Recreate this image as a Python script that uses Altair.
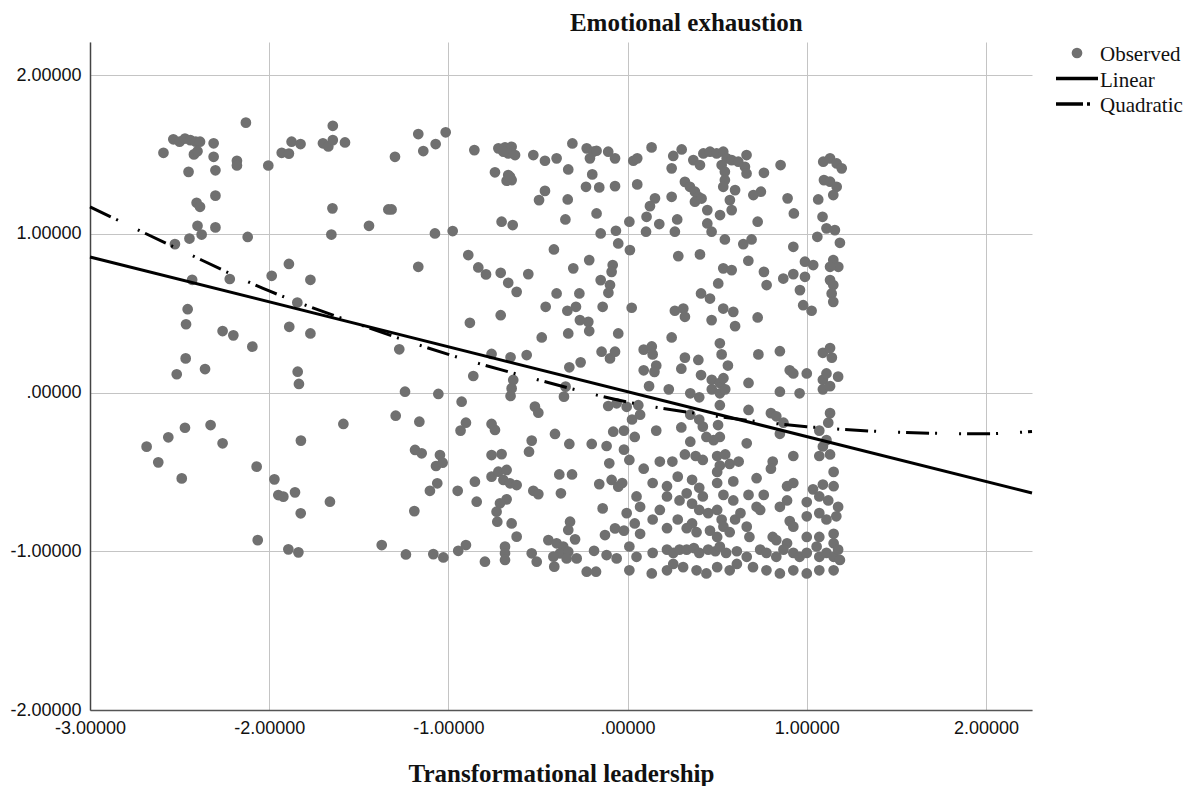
import altair as alt
import pandas as pd

# ---- observed points ----
xA = [-2.13, -2.535, -2.50, -2.47, -2.44, -2.41, -2.386, -2.59, -2.42, -2.40, -2.31, -2.31, -2.45, -2.30, -2.18, -2.18, -2.005, -1.93, -1.89, -1.875, -1.825, -1.70, -1.67, -1.645, -1.577, -1.645]
yA = [1.70, 1.595, 1.58, 1.60, 1.59, 1.58, 1.58, 1.51, 1.50, 1.52, 1.57, 1.485, 1.39, 1.40, 1.46, 1.43, 1.43, 1.51, 1.505, 1.58, 1.565, 1.57, 1.55, 1.59, 1.575, 1.68]
xB = [-2.30, -2.405, -2.386, -2.40, -2.377, -2.30, -2.445, -2.526, -2.12, -1.647, -1.653, -1.89, -1.986, -1.77, -2.43, -2.22, -1.843, -2.455, -2.464, -2.26, -2.20, -1.888, -1.77]
yB = [1.24, 1.195, 1.17, 1.05, 0.995, 1.04, 0.97, 0.935, 0.98, 1.16, 0.995, 0.81, 0.735, 0.71, 0.71, 0.715, 0.567, 0.525, 0.43, 0.387, 0.36, 0.414, 0.372]
xC = [-2.094, -2.466, -2.358, -2.516, -1.841, -1.834, -2.47, -2.327, -2.563, -2.684, -2.619, -2.488, -2.26, -1.586, -1.823, -2.07, -1.971, -1.949, -1.921, -1.856, -1.661, -1.824, -2.064, -1.893, -1.837]
yC = [0.289, 0.215, 0.148, 0.115, 0.131, 0.054, -0.222, -0.205, -0.282, -0.341, -0.44, -0.541, -0.32, -0.198, -0.303, -0.467, -0.547, -0.646, -0.656, -0.629, -0.688, -0.761, -0.93, -0.988, -1.007]
xD = [-1.168, -1.015, -1.071, -1.14, -1.298, -0.855, -0.721, -0.684, -0.647, -0.666, -0.628, -0.693, -0.526, -0.461, -0.396, -0.308, -0.228, -0.191, -0.21, -0.173, -0.108, -0.07, -0.74, -0.666, -0.647, -0.675, -0.656, -0.331, -0.197, -0.232, -0.158, -0.07, -0.461, -0.494, -0.334, -1.335, -1.317, -1.443, -1.075, -0.976, -0.703, -0.641, -0.347, -0.173, -0.15, -0.065, -0.052]
yD = [1.628, 1.639, 1.565, 1.521, 1.485, 1.527, 1.538, 1.544, 1.548, 1.506, 1.496, 1.517, 1.496, 1.46, 1.475, 1.569, 1.538, 1.517, 1.475, 1.523, 1.517, 1.475, 1.387, 1.37, 1.338, 1.334, 1.359, 1.405, 1.374, 1.296, 1.292, 1.30, 1.27, 1.212, 1.216, 1.153, 1.153, 1.05, 1.002, 1.017, 1.076, 1.055, 1.09, 1.128, 1.002, 1.019, 0.939]
xE = [-1.168, -0.889, -0.833, -0.79, -0.708, -0.666, -0.619, -0.554, -0.411, -0.303, -0.214, -0.083, -0.089, -0.15, -0.098, -0.107, -0.396, -0.269, -0.457, -0.336, -0.288, -0.139, -0.266, -0.219, -0.214, -0.88, -0.708, -0.479, -0.331, -0.052]
yE = [0.792, 0.866, 0.788, 0.744, 0.754, 0.691, 0.634, 0.746, 0.901, 0.782, 0.834, 0.803, 0.76, 0.708, 0.677, 0.628, 0.624, 0.624, 0.54, 0.515, 0.54, 0.54, 0.456, 0.445, 0.387, 0.439, 0.487, 0.347, 0.372, 0.372]
xF = [-1.274, -0.759, -0.653, -0.563, -0.145, -0.098, -0.07, -0.325, -0.262, -0.861, -0.638, -0.647, -0.653, -0.346, -0.355, -1.242, -1.056, -0.926, -0.108, -0.061, -0.517, -0.498, -1.294, -1.162, -0.902, -0.932, -0.759, -0.74, -0.405, -0.08, -0.535, -0.55, -0.325, -0.2, -0.117, -1.186, -1.149, -1.047, -1.069, -1.032, -0.759, -0.703, -0.102]
yF = [0.272, 0.243, 0.222, 0.236, 0.257, 0.215, 0.257, 0.159, 0.19, 0.104, 0.079, 0.026, -0.022, 0.037, -0.026, 0.005, -0.009, -0.058, -0.085, -0.068, -0.089, -0.127, -0.146, -0.184, -0.19, -0.24, -0.198, -0.236, -0.261, -0.247, -0.303, -0.373, -0.324, -0.324, -0.337, -0.362, -0.383, -0.394, -0.463, -0.442, -0.394, -0.388, -0.446]
xG = [-0.759, -0.721, -0.675, -0.693, -0.656, -0.619, -0.381, -0.31, -0.158, -0.089, -0.052, -1.062, -1.103, -0.948, -0.852, -0.526, -0.498, -0.372, -0.842, -0.675, -0.712, -0.731, -0.727, -1.19, -0.139, -0.647, -0.619, -0.321, -0.331, -0.293, -0.07, -0.126, -1.372, -1.237, -1.084, -1.028, -0.945, -0.902, -0.796, -0.684, -0.684, -0.684, -0.535, -0.507, -0.442, -0.396, -0.359, -0.377, -0.331, -0.414, -0.34, -0.284, -0.187, -0.117, -0.061, -0.228, -0.176, -0.409]
yG = [-0.53, -0.499, -0.488, -0.551, -0.572, -0.583, -0.516, -0.516, -0.577, -0.551, -0.593, -0.572, -0.619, -0.619, -0.562, -0.619, -0.64, -0.635, -0.688, -0.673, -0.698, -0.751, -0.814, -0.747, -0.73, -0.825, -0.908, -0.814, -0.866, -0.925, -0.856, -0.898, -0.961, -1.02, -1.018, -1.039, -0.997, -0.961, -1.066, -0.971, -1.013, -1.055, -1.013, -1.066, -0.93, -0.95, -0.971, -1.013, -1.003, -1.034, -1.045, -1.045, -0.997, -1.024, -1.045, -1.129, -1.129, -1.097]
xH = [0.134, 0.032, 0.054, 0.255, 0.302, 0.246, 0.367, 0.404, 0.423, 0.46, 0.497, 0.534, 0.553, 0.581, 0.618, 0.664, 0.655, 0.664, 0.525, 0.543, 0.543, 0.534, 0.6, 0.761, 0.854, 0.054, 0.32, 0.348, 0.376, 0.395, 0.376, 0.413, 0.246, 0.153, 0.125, 0.106, 0.702, 0.744, 0.571, 0.581, 0.516, 0.445, 0.893, 0.928, 0.01, 0.177, 0.277, 0.264, 0.103, 0.445, 0.469, 0.726, 0.543, 0.646, 0.692, 0.013, 0.925, 0.283, 0.404, 0.674, 0.534, 0.581, 0.761, 0.506, 0.776, 0.869, 0.925, 0.41, 0.46, 0.962, 0.99, 1.036, 0.99, 0.98, 1.027, 0.023, 0.264, 0.311, 0.32, 0.534, 0.59, 0.6, 0.469, 0.726, 0.246]
yH = [1.544, 1.46, 1.475, 1.49, 1.531, 1.412, 1.464, 1.433, 1.506, 1.517, 1.506, 1.517, 1.475, 1.464, 1.454, 1.496, 1.422, 1.38, 1.433, 1.391, 1.338, 1.296, 1.275, 1.384, 1.433, 1.311, 1.327, 1.296, 1.265, 1.233, 1.202, 1.222, 1.233, 1.223, 1.174, 1.107, 1.244, 1.265, 1.212, 1.149, 1.118, 1.149, 1.223, 1.128, 1.076, 1.061, 1.09, 1.013, 1.013, 1.065, 1.013, 1.076, 0.964, 0.935, 0.964, 0.897, 0.918, 0.859, 0.87, 0.83, 0.782, 0.771, 0.76, 0.687, 0.677, 0.718, 0.746, 0.624, 0.592, 0.645, 0.824, 0.803, 0.729, 0.55, 0.515, 0.534, 0.515, 0.529, 0.477, 0.529, 0.508, 0.418, 0.456, 0.473, 0.347]
xI = [1.092, 1.13, 1.167, 1.195, 1.096, 1.13, 1.167, 1.148, 1.064, 1.088, 1.11, 1.157, 1.185, 1.059, 1.148, 1.176, 1.13, 1.13, 1.148, 1.139, 1.148]
yI = [1.454, 1.475, 1.443, 1.412, 1.338, 1.328, 1.296, 1.244, 1.216, 1.107, 1.034, 1.023, 0.943, 0.981, 0.834, 0.792, 0.792, 0.708, 0.677, 0.624, 0.571]
xJ = [0.09, 0.135, 0.14, 0.32, 0.395, 0.515, 0.525, 0.56, 0.73, 0.85, 1.09, 1.13, 1.14,
      0.09, 0.16, 0.15, 0.30, 0.41, 0.47, 0.515, 0.535, 0.675, 0.905, 0.925, 1.0, 1.09, 1.11, 1.175,
      0.12, 0.23, 0.35, 0.40, 0.47, 0.515, 0.545, 0.85, 0.96, 1.09, 1.13,
      -0.005, 0.06, 0.025, 0.07, 0.16, 0.30, 0.35, 0.40, 0.42, 0.515, 0.505, 0.675, 0.80, 0.83, 0.87, 0.85, 1.07, 1.13, 1.12,
      -0.02, 0.04, -0.02, 0.35, 0.44, 0.515, 0.48, 0.665, 1.09, 1.11, 0.925, 1.07, 1.13,
      0.01, 0.09, 0.18, 0.25, 0.32, 0.38, 0.42, 0.50, 0.545, 0.57, 0.62, 0.81, 0.80, 1.15,
      -0.03, 0.14, 0.22, 0.28, 0.36, 0.40, 0.50, 0.515, 0.50, 0.59, 0.72, 0.89, 0.925, 1.035, 1.09, 1.15,
      0.05, 0.07, 0.22, 0.29, 0.33, 0.36, 0.42, 0.535, 0.59, 0.675, 0.76, 0.89, 1.0, 1.07, 1.12, 1.175,
      -0.005, 0.04, 0.14, 0.18, 0.28, 0.36, 0.40, 0.45, 0.50, 0.525, 0.60, 0.63, 0.72, 0.74, 0.85, 0.905, 0.925, 1.0, 1.07, 1.11, 1.165,
      -0.02, 0.07, 0.22, 0.33, 0.385, 0.46, 0.50, 0.535, 0.57, 0.665, 0.68, 0.81, 0.83, 0.89, 1.0, 1.07, 1.15, 1.15,
      0.01, 0.05, 0.14, 0.22, 0.255, 0.29, 0.33, 0.37, 0.40, 0.45, 0.49, 0.515, 0.55, 0.61, 0.665, 0.74, 0.775, 0.83, 0.87, 0.925, 0.96, 1.0, 1.055, 1.07, 1.11, 1.15, 1.175, 1.185,
      0.01, 0.135, 0.22, 0.255, 0.31, 0.385, 0.44, 0.50, 0.57, 0.61, 0.70, 0.775, 0.85, 0.925, 1.0, 1.07, 1.15]
yJ = [0.27, 0.29, 0.24, 0.22, 0.205, 0.31, 0.24, 0.17, 0.24, 0.26, 0.25, 0.28, 0.22,
      0.14, 0.17, 0.13, 0.15, 0.11, 0.08, 0.06, 0.09, 0.06, 0.14, 0.12, 0.12, 0.08, 0.12, 0.10,
      0.04, 0.02, -0.005, -0.03, 0.02, -0.005, 0.02, 0.005, -0.005, 0.02, 0.04,
      -0.09, -0.08, -0.17, -0.14, -0.24, -0.22, -0.14, -0.17, -0.215, -0.08, -0.205, -0.11, -0.13, -0.15, -0.19, -0.26, -0.24, -0.13, -0.19,
      -0.24, -0.28, -0.36, -0.31, -0.28, -0.28, -0.30, -0.32, -0.34, -0.30, -0.40, -0.40, -0.39,
      -0.425, -0.48, -0.435, -0.435, -0.39, -0.40, -0.425, -0.40, -0.39, -0.45, -0.435, -0.435, -0.48, -0.50,
      -0.57, -0.57, -0.59, -0.53, -0.55, -0.60, -0.57, -0.46, -0.50, -0.56, -0.54, -0.59, -0.57, -0.61, -0.58, -0.59,
      -0.655, -0.72, -0.655, -0.68, -0.635, -0.70, -0.655, -0.645, -0.68, -0.645, -0.645, -0.68, -0.69, -0.655, -0.68, -0.72,
      -0.76, -0.825, -0.80, -0.74, -0.80, -0.825, -0.74, -0.76, -0.74, -0.80, -0.80, -0.76, -0.72, -0.74, -0.72, -0.81, -0.845, -0.78, -0.76, -0.80, -0.78,
      -0.87, -0.89, -0.855, -0.855, -0.88, -0.87, -0.91, -0.845, -0.88, -0.845, -0.91, -0.91, -0.93, -0.95, -0.91, -0.91, -0.89, -0.95,
      -0.97, -1.035, -1.01, -0.99, -1.01, -0.99, -0.99, -0.98, -1.01, -0.99, -1.0, -0.97, -1.01, -1.0, -1.035, -0.99, -1.01, -1.035, -0.99, -1.01, -1.035, -1.01, -0.97, -1.035, -1.01, -1.035, -0.99, -1.055,
      -1.12, -1.14, -1.12, -1.08, -1.10, -1.12, -1.14, -1.10, -1.12, -1.08, -1.10, -1.12, -1.14, -1.12, -1.14, -1.12, -1.12]

obs_x = xA + xB + xC + xD + xE + xF + xG + xH + xI + xJ
obs_y = yA + yB + yC + yD + yE + yF + yG + yH + yI + yJ

# ---- fitted lines ----
lin_x = [-3.0, 2.257]
lin_y = [0.854, -0.633]
quad_x = [-3.0, -2.5, -2.0, -1.5, -1.0, -0.5, 0.0, 0.5, 1.0, 1.5, 2.0, 2.257]
quad_y = [1.17, 0.90, 0.64, 0.43, 0.24, 0.08, -0.06, -0.15, -0.215, -0.25, -0.26, -0.245]

x_ticks = [-3, -2, -1, 0, 1, 2]
y_ticks = [-2, -1, 0, 1, 2]
legend_labels = ["Observed", "Linear", "Quadratic"]

pairs = list(zip(obs_x, obs_y))
obs_df = pd.DataFrame({"x": [p[0] for p in pairs], "y": [p[1] for p in pairs]})
lin_df = pd.DataFrame({"x": lin_x, "y": lin_y})
quad_df = pd.DataFrame({"x": quad_x, "y": quad_y})
leg_df = pd.DataFrame({"label": legend_labels})

SERIF = "Liberation Serif"
SANS = "Liberation Sans, Arial, sans-serif"
LABEL_EXPR = "datum.value == 0 ? '.00000' : (datum.value < 0 ? '-' : '') + format(abs(datum.value), '.5f')"
GRID = "#c4c4c4"
DOT = "#707070"

xscale = alt.Scale(domain=[-3, 2.257], nice=False, zero=False)
yscale = alt.Scale(domain=[-2, 2.208], nice=False, zero=False)

xaxis = alt.Axis(values=x_ticks, labelExpr=LABEL_EXPR, title="Transformational leadership",
                 grid=True, gridColor=GRID, gridWidth=1, ticks=False, labelPadding=9,
                 domainColor="#555555", domainWidth=1.5, labelFont=SANS, labelFontSize=18,
                 labelColor="#111111", titleFont=SERIF, titleFontSize=25, titleFontWeight="bold",
                 titleColor="#111111", titlePadding=24, labelFlush=False)
yaxis = alt.Axis(values=y_ticks, labelExpr=LABEL_EXPR, title=None,
                 grid=True, gridColor=GRID, gridWidth=1, ticks=False, labelPadding=9,
                 domainColor="#444444", domainWidth=1.5, labelFont=SANS, labelFontSize=18,
                 labelColor="#111111", labelFlush=False)

points = alt.Chart(obs_df).mark_circle(size=115, color=DOT, opacity=1).encode(
    x=alt.X("x:Q", scale=xscale, axis=xaxis),
    y=alt.Y("y:Q", scale=yscale, axis=yaxis),
)
linear = alt.Chart(lin_df).mark_line(color="black", strokeWidth=3).encode(
    x="x:Q", y="y:Q"
)
quad = alt.Chart(quad_df).mark_line(color="black", strokeWidth=3, interpolate="monotone",
                                    strokeDash=[23, 6, 2, 22, 2, 6]).encode(
    x="x:Q", y="y:Q"
)
main = alt.layer(points, linear, quad).properties(width=942, height=668)

# ---- legend panel ----
ly = alt.Y("label:N", sort=legend_labels, axis=None,
           scale=alt.Scale(type="point", range=[11, 62], padding=0))
leg_base = alt.Chart(leg_df)
leg_dot = leg_base.transform_filter("datum.label == 'Observed'").mark_circle(
    size=115, color=DOT, opacity=1).encode(x=alt.value(39), y=ly)
leg_lin = leg_base.transform_filter("datum.label == 'Linear'").mark_rule(
    color="black", strokeWidth=3.5).encode(x=alt.value(18), x2=alt.value(60), y=ly)
leg_quad = leg_base.transform_filter("datum.label == 'Quadratic'").mark_rule(
    color="black", strokeWidth=3.5, strokeDash=[27, 4, 3, 40]).encode(
    x=alt.value(18), x2=alt.value(52), y=ly)
leg_text = leg_base.mark_text(align="left", baseline="middle", font=SERIF, fontSize=21,
                              color="#111111", dy=2).encode(
    x=alt.value(62), y=ly, text="label:N")
legend = alt.layer(leg_dot, leg_lin, leg_quad, leg_text).properties(width=120, height=668)

chart = alt.hconcat(main, legend, spacing=0).properties(
    title=alt.Title("Emotional exhaustion", font=SERIF, fontSize=25, fontWeight="bold",
                    color="#111111", anchor="start", dx=560, offset=6),
    padding={"left": 1, "top": 3, "right": 0, "bottom": 0},
    background="white",
).configure_view(strokeWidth=0)

chart.save("out.html", embed_options={"renderer": "svg", "actions": False})
